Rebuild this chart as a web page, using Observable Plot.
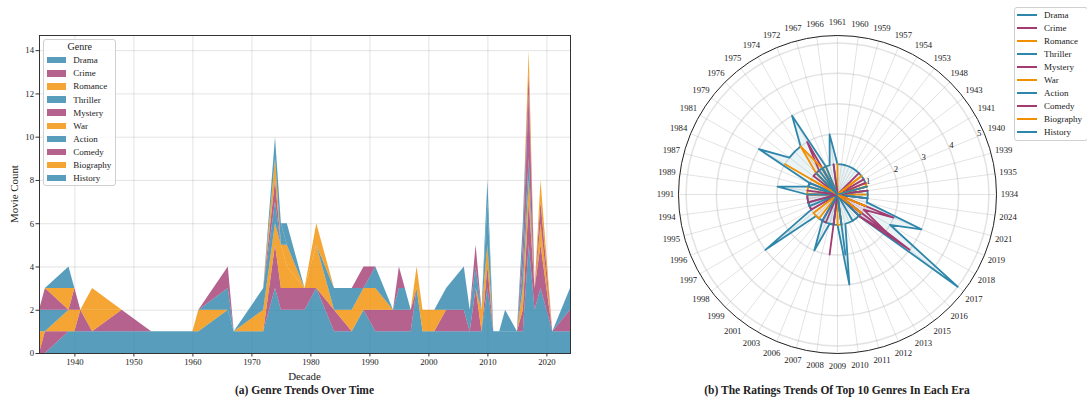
<!DOCTYPE html>
<html><head><meta charset="utf-8">
<script src="https://cdn.jsdelivr.net/npm/d3@7"></script>
<script src="https://cdn.jsdelivr.net/npm/@observablehq/plot@0.6"></script>
<style>
body{margin:0;background:#fff;}
#wrap{position:relative;width:1087px;height:401px;font-family:"Liberation Serif","DejaVu Serif",serif;color:#222;overflow:hidden;}
#wrap svg{position:absolute;top:0;}
.abs{position:absolute;white-space:nowrap;line-height:1;}
.legend{position:absolute;background:rgba(255,255,255,0.85);border:1px solid #d0d0d0;border-radius:3px;box-sizing:border-box;}
.ltxt{position:absolute;font-size:9px;line-height:1;transform:translateY(-50%);white-space:nowrap;}
.title{position:absolute;font-weight:bold;font-size:11.5px;transform:translate(-50%,-50%);white-space:nowrap;}
</style></head><body><div id="wrap"></div>
<script>
// ---- data ----
const years = [1934,1935,1939,1940,1941,1943,1948,1953,1954,1957,1959,1960,1961,1966,1967,1972,1974,1975,1976,1979,1981,1984,1987,1989,1991,1994,1995,1996,1997,1998,1999,2001,2003,2006,2007,2008,2009,2010,2011,2012,2013,2015,2016,2017,2018,2019,2021,2024];
const genres = ["Drama","Crime","Romance","Thriller","Mystery","War","Action","Comedy","Biography","History"];
const drama     = [0,0,1,1,1,1,1,1,1,1,1,1,1,2,1,1,3,2,2,2,3,1,1,2,1,1,1,1,1,3,1,1,1,1,1,1,1,3,1,1,1,1,1,5,2,3,1,1];
const crime     = [0,1,0,0,1,0,1,0,0,0,0,0,0,0,0,0,2,1,1,1,0,1,0,0,1,1,1,1,1,0,0,0,1,1,0,2,0,1,0,0,0,0,1,2,1,2,0,1];
const romance   = [1,0,1,1,0,1,0,0,0,0,0,0,1,0,0,1,1,2,1,0,2,0,1,1,1,0,0,0,0,1,1,1,0,0,0,0,1,1,0,0,0,0,1,1,0,1,0,0];
const thriller  = [1,1,0,0,0,0,0,0,0,0,0,0,0,1,0,1,1,0,0,0,0,1,1,0,1,0,1,1,0,0,0,0,1,2,1,1,0,2,0,0,1,0,1,1,0,0,0,1];
const mystery   = [0,1,0,1,0,0,0,0,0,0,0,0,0,1,0,0,1,0,0,0,0,0,0,1,0,0,1,0,0,0,0,0,0,0,0,1,0,0,0,0,0,0,1,3,0,1,0,0];
const war       = [0,0,1,0,0,1,0,0,0,0,0,0,0,0,0,0,1,0,1,0,1,0,0,0,0,0,0,0,0,0,0,0,0,0,0,0,0,0,0,0,0,0,0,0,0,1,0,0];
const action    = [0,0,1,0,0,0,0,0,0,0,0,0,0,0,0,0,1,1,0,0,0,0,0,0,0,0,0,0,0,0,0,0,0,0,0,0,0,1,0,0,0,0,1,0,0,0,0,0];
const comedy    = [0,0,0,0,0,0,0,0,0,0,0,0,0,0,0,0,0,0,0,0,0,0,0,0,0,0,0,0,0,0,0,0,0,0,0,0,0,0,0,0,0,0,0,1,0,0,0,0];
const biography = [0,0,0,0,0,0,0,0,0,0,0,0,0,0,0,0,0,0,0,0,0,0,0,0,0,0,0,0,0,0,0,0,0,0,0,0,0,0,0,0,0,0,0,1,0,0,0,0];
const history   = [0,0,0,0,0,0,0,0,0,0,0,0,0,0,0,0,0,0,1,0,0,0,0,0,0,0,0,0,0,0,0,0,0,0,0,0,0,0,0,0,0,0,0,0,0,0,0,0];
const xTicks = [1940,1950,1960,1970,1980,1990,2000,2010,2020];
const yTicks = [0,2,4,6,8,10,12,14];
const rTicks = [1,2,3,4,5];
const palette = ["#2E86AB","#A23B72","#F18F01"];

const series = [drama,crime,romance,thriller,mystery,war,action,comedy,biography,history];
const genreColors = genres.map((g,i)=>palette[i%3]);
const rows = genres.flatMap((g,gi)=>years.map((y,yi)=>({genre:g,year:y,count:series[gi][yi]})));

const FONT = '"Liberation Serif","DejaVu Serif",serif';
const wrap = document.getElementById("wrap");

// ---- left: stacked area ----
const left = Plot.plot({
  width: 580, height: 401,
  marginLeft: 39, marginRight: 10, marginTop: 35, marginBottom: 48,
  style: {fontFamily: FONT, fontSize: "8.7px", color: "#222", background: "transparent", overflow: "visible"},
  x: {domain: [1934, 2024]},
  y: {domain: [0, 14.7]},
  color: {domain: genres, range: genreColors},
  marks: [
    Plot.gridX(xTicks, {stroke: "#b0b0b0", strokeOpacity: 0.35}),
    Plot.gridY(yTicks, {stroke: "#b0b0b0", strokeOpacity: 0.35}),
    Plot.areaY(rows, {x: "year", y: "count", z: "genre", fill: "genre", order: genres, fillOpacity: 0.8, curve: "linear"}),
    Plot.frame({stroke: "#333", strokeWidth: 1}),
    Plot.axisX(xTicks, {tickSize: 3.5, tickPadding: 2, tickFormat: d => String(d), label: null, stroke: "#333"}),
    Plot.axisY(yTicks, {tickSize: 3.5, tickPadding: 2, label: null, stroke: "#333"})
  ]
});
left.style.left = "0px";
wrap.appendChild(left);

// ---- right: polar ----
const RMAX = 5.25, RPX = 159, U = RPX / RMAX, CX = 257, CY = 194;
const ang = i => i * 2 * Math.PI / years.length;
const polar = Plot.plot({
  width: 507, height: 401, margin: 0,
  style: {fontFamily: FONT, fontSize: "8.7px", color: "#222", background: "transparent", overflow: "visible"},
  x: {domain: [-RMAX, RMAX], range: [CX - RPX, CX + RPX], axis: null},
  y: {domain: [-RMAX, RMAX], range: [CY + RPX, CY - RPX], axis: null},
  r: {type: "identity"},
  marks: [
    Plot.link(years, {x1: 0, y1: 0, x2: (d,i) => RMAX*Math.cos(ang(i)), y2: (d,i) => RMAX*Math.sin(ang(i)), stroke: "#b0b0b0", strokeOpacity: 0.35}),
    Plot.dot(rTicks, {x: 0, y: 0, r: d => d*U, stroke: "#b0b0b0", strokeOpacity: 0.35, fill: "none"}),
    ...genres.map((g,gi) => Plot.line(years.map((y,yi)=>({v: series[gi][yi], a: ang(yi)})), {
      x: d => d.v*Math.cos(d.a), y: d => d.v*Math.sin(d.a), curve: "linear-closed",
      stroke: genreColors[gi], strokeWidth: 1.8, fill: genreColors[gi], fillOpacity: 0.1, strokeLinejoin: "round"})),
    Plot.dot([RMAX], {x: 0, y: 0, r: d => d*U, stroke: "#222", strokeWidth: 1, fill: "none"}),
    Plot.text(years, {x: (d,i) => 5.68*Math.cos(ang(i)), y: (d,i) => 5.68*Math.sin(ang(i)), text: d => String(d), fill: "#222"}),
    Plot.text(rTicks, {x: d => (d+0.1)*Math.cos(23.5*Math.PI/180), y: d => (d+0.1)*Math.sin(23.5*Math.PI/180), text: d => String(d), fill: "#222"})
  ]
});
polar.style.left = "580px";
wrap.appendChild(polar);

// ---- overlays: labels, titles, legends ----
function addDiv(cls, html, css){const d=document.createElement("div");d.className=cls;d.innerHTML=html;Object.assign(d.style,css);wrap.appendChild(d);return d;}
addDiv("abs","Decade",{left:"304.5px",top:"376px",fontSize:"10.9px",transform:"translate(-50%,-50%)"});
addDiv("abs","Movie Count",{left:"14px",top:"194px",fontSize:"10.9px",transform:"translate(-50%,-50%) rotate(-90deg)"});
addDiv("title","(a) Genre Trends Over Time",{left:"304.5px",top:"390px"});
addDiv("title","(b) The Ratings Trends Of Top 10 Genres In Each Era",{left:"837px",top:"390px"});

// left legend
const lg = addDiv("legend","",{left:"43px",top:"39px",width:"73px",height:"147px"});
addDiv("abs","Genre",{left:"79.7px",top:"46.7px",fontSize:"10px",transform:"translate(-50%,-50%)"});
genres.forEach((g,i)=>{
  const yc = 60.3 + 13.08*i;
  const p = document.createElement("div");
  Object.assign(p.style,{position:"absolute",left:"47.3px",top:(yc-3.2)+"px",width:"18.4px",height:"6.4px",background:genreColors[i],opacity:0.8});
  wrap.appendChild(p);
  addDiv("ltxt",g,{left:"73.3px",top:yc+"px"});
});
// right legend
addDiv("legend","",{left:"1014px",top:"7px",width:"74px",height:"134px"});
genres.forEach((g,i)=>{
  const yc = 14.7 + 13.07*i;
  const p = document.createElement("div");
  Object.assign(p.style,{position:"absolute",left:"1017px",top:(yc-1)+"px",width:"19.7px",height:"2px",background:genreColors[i]});
  wrap.appendChild(p);
  addDiv("ltxt",g,{left:"1044px",top:yc+"px"});
});
</script></body></html>
